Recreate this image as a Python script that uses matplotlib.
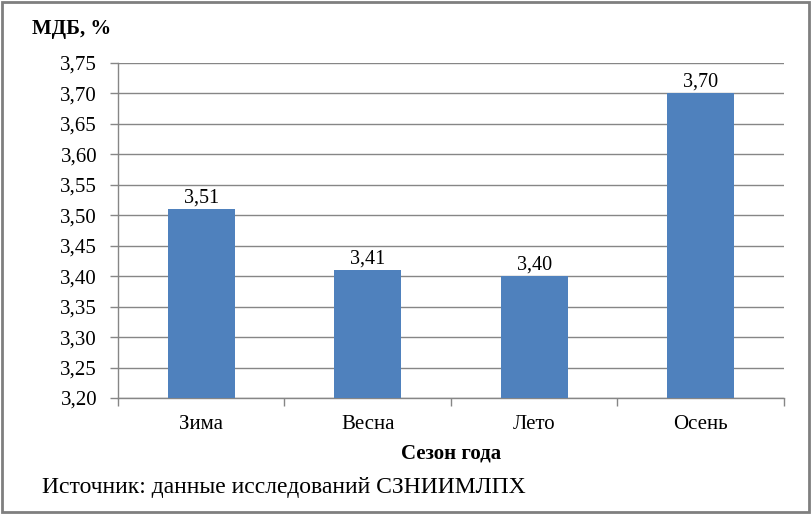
import matplotlib.pyplot as plt
from matplotlib.ticker import FuncFormatter, FixedLocator
from matplotlib.patches import Rectangle

seasons = ['Зима', 'Весна', 'Лето', 'Осень']
mdb = [3.51, 3.41, 3.40, 3.70]
yticks = [3.20, 3.25, 3.30, 3.35, 3.40, 3.45, 3.50, 3.55, 3.60, 3.65, 3.70, 3.75]

plt.rcParams['font.family'] = ['Liberation Serif', 'DejaVu Serif']

fig = plt.figure(figsize=(8.11, 5.14), dpi=100)
ax = fig.add_axes([0.1455, 0.2257, 0.8212, 0.6517])

grid_col = '#868686'
x = range(len(seasons))
bars = ax.bar(x, mdb, width=0.4, color='#4F81BD', zorder=3)
for b, v in zip(bars, mdb):
    ax.text(b.get_x() + b.get_width() / 2, v + 0.003, f'{v:.2f}'.replace('.', ','),
            ha='center', va='bottom', fontsize=14.5, zorder=4)

ax.set_xlim(-0.5, len(seasons) - 0.5)
ax.set_ylim(3.20, 3.75)
ax.set_yticks(yticks)
ax.yaxis.set_major_formatter(FuncFormatter(lambda v, p: f'{v:.2f}'.replace('.', ',')))
ax.set_xticks(list(x))
ax.set_xticklabels(seasons, fontsize=15)
ax.tick_params(axis='x', which='major', length=0, pad=12)
ax.xaxis.set_minor_locator(FixedLocator([i - 0.5 for i in range(len(seasons) + 1)]))
ax.tick_params(axis='x', which='minor', length=6, color=grid_col, width=1)
ax.tick_params(axis='y', length=6, color=grid_col, width=1, labelsize=15, pad=9)
ax.grid(axis='y', color=grid_col, linewidth=1, zorder=0)
for s in ['top', 'right']:
    ax.spines[s].set_visible(False)
for s in ['left', 'bottom']:
    ax.spines[s].set_color(grid_col)
    ax.spines[s].set_linewidth(1)

ax.set_xlabel('Сезон года', fontsize=15, fontweight='bold', labelpad=7)
fig.text(0.04, 0.943, 'МДБ, %', fontsize=15, fontweight='bold', ha='left', va='center')
fig.text(0.052, 0.052, 'Источник: данные исследований СЗНИИМЛПХ', fontsize=17,
         ha='left', va='center')

fig.patches.append(Rectangle((0.002, 0.003), 0.995, 0.993, transform=fig.transFigure,
                             fill=False, edgecolor='#7f7f7f', linewidth=2))

fig.savefig('out.png', dpi=100)
